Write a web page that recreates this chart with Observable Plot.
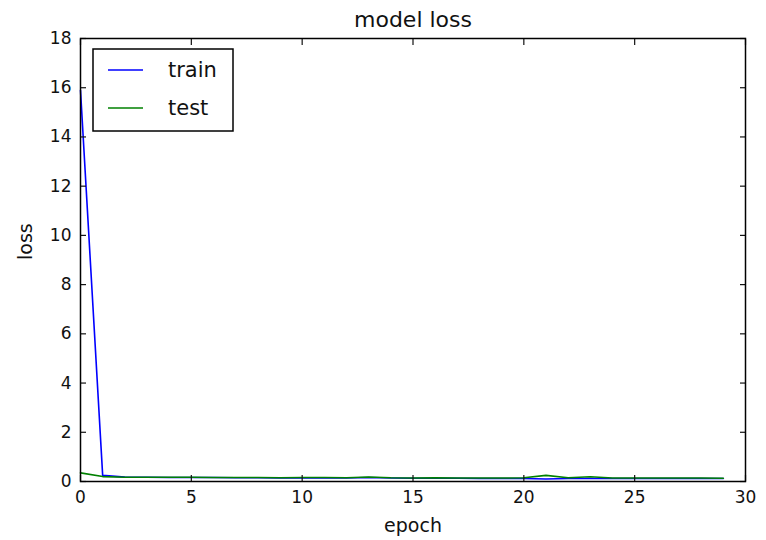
<!DOCTYPE html>
<html>
<head>
<meta charset="utf-8">
<script src="https://cdn.jsdelivr.net/npm/d3@7"></script>
<script src="https://cdn.jsdelivr.net/npm/@observablehq/plot@0.6"></script>
<style>
  body { margin: 0; background: #fff; }
  #chart { position: relative; width: 766px; height: 540px; }
</style>
</head>
<body>
<div id="chart"></div>
<script>
const epochs = d3.range(30);
const trainLoss = [15.9, 0.25, 0.18, 0.17, 0.16, 0.16, 0.16, 0.15, 0.15, 0.14,
                   0.14, 0.14, 0.14, 0.16, 0.14, 0.13, 0.13, 0.13, 0.12, 0.12,
                   0.12, 0.10, 0.12, 0.12, 0.12, 0.12, 0.12, 0.12, 0.12, 0.12];
const testLoss  = [0.35, 0.20, 0.17, 0.17, 0.17, 0.17, 0.16, 0.16, 0.16, 0.15,
                   0.16, 0.16, 0.15, 0.18, 0.15, 0.14, 0.15, 0.14, 0.14, 0.14,
                   0.15, 0.25, 0.15, 0.19, 0.14, 0.14, 0.14, 0.14, 0.14, 0.13];
const xTicks = [0, 5, 10, 15, 20, 25, 30];
const yTicks = [0, 2, 4, 6, 8, 10, 12, 14, 16, 18];
const seriesNames = ["train", "test"];
const seriesColors = ["#0000ff", "#008000"];

const train = epochs.map((e, i) => ({epoch: e, loss: trainLoss[i]}));
const test = epochs.map((e, i) => ({epoch: e, loss: testLoss[i]}));

const font = "DejaVu Sans, sans-serif";

const plot = Plot.plot({
  width: 766,
  height: 540,
  marginLeft: 80,
  marginRight: 21,
  marginTop: 38,
  marginBottom: 59,
  style: {fontFamily: font, fontSize: "17px", color: "#111", background: "#fff"},
  x: {domain: [0, 30]},
  y: {domain: [0, 18]},
  marks: [
    Plot.line(train, {x: "epoch", y: "loss", stroke: seriesColors[0], strokeWidth: 1.6}),
    Plot.line(test, {x: "epoch", y: "loss", stroke: seriesColors[1], strokeWidth: 1.6}),
    // inward ticks on all four sides
    Plot.axisX({anchor: "bottom", ticks: xTicks, tickSize: -6, tickFormat: () => "", label: null, strokeWidth: 1.2}),
    Plot.axisX({anchor: "top", ticks: xTicks, tickSize: -6, tickFormat: () => "", label: null, strokeWidth: 1.2}),
    Plot.axisY({anchor: "left", ticks: yTicks, tickSize: -6, tickFormat: () => "", label: null, strokeWidth: 1.2}),
    Plot.axisY({anchor: "right", ticks: yTicks, tickSize: -6, tickFormat: () => "", label: null, strokeWidth: 1.2}),
    // labels
    Plot.axisX({anchor: "bottom", ticks: xTicks, tickSize: 0, tickPadding: 9, label: null, fontSize: 17}),
    Plot.axisY({anchor: "left", ticks: yTicks, tickSize: 0, tickPadding: 9, label: null, fontSize: 17}),
    Plot.frame({stroke: "#000", strokeWidth: 1.5}),
    Plot.text(["model loss"], {frameAnchor: "top", lineAnchor: "bottom", dy: -12, fontSize: 22}),
    Plot.text(["epoch"], {frameAnchor: "bottom", lineAnchor: "top", dy: 37, fontSize: 19}),
    Plot.text(["loss"], {frameAnchor: "left", dx: -55, rotate: -90, fontSize: 19})
  ]
});

document.getElementById("chart").appendChild(plot);

// legend inside the plot area
const svg = d3.select(plot);
const lg = svg.append("g").attr("transform", "translate(93,49)");
lg.append("rect").attr("width", 140).attr("height", 82)
  .attr("fill", "#fff").attr("stroke", "#000").attr("stroke-width", 1.5);
seriesNames.forEach((name, i) => {
  const y = 21 + i * 38;
  lg.append("line").attr("x1", 15).attr("x2", 50).attr("y1", y).attr("y2", y)
    .attr("stroke", seriesColors[i]).attr("stroke-width", 1.6);
  lg.append("text").attr("x", 75).attr("y", y).attr("dy", "0.35em")
    .attr("text-anchor", "start")
    .attr("font-family", font).attr("font-size", 21).attr("fill", "#111").text(name);
});
</script>
</body>
</html>
